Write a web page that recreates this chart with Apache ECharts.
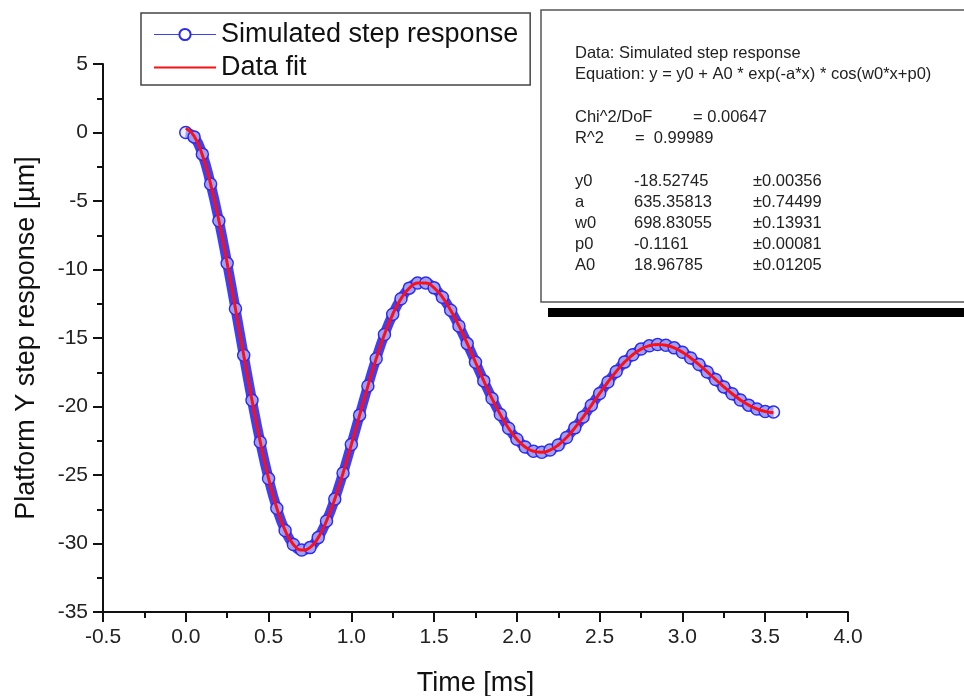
<!DOCTYPE html>
<html>
<head>
	<meta charset="utf-8">
	<title>Platform Y step response</title>
	<script src="https://cdn.jsdelivr.net/npm/echarts@6/dist/echarts.min.js"></script>
	<style>
		html, body { margin: 0; padding: 0; background: #fff; }
		#main { width: 964px; height: 696px; }
	</style>
</head>
<body>
	<div id="main"></div>
	<script>
		// time axis [ms], every 0.05 ms
		var timeMs = [0.00, 0.05, 0.10, 0.15, 0.20, 0.25, 0.30, 0.35, 0.40, 0.45, 0.50, 0.55,
			0.60, 0.65, 0.70, 0.75, 0.80, 0.85, 0.90, 0.95, 1.00, 1.05, 1.10, 1.15,
			1.20, 1.25, 1.30, 1.35, 1.40, 1.45, 1.50, 1.55, 1.60, 1.65, 1.70, 1.75,
			1.80, 1.85, 1.90, 1.95, 2.00, 2.05, 2.10, 2.15, 2.20, 2.25, 2.30, 2.35,
			2.40, 2.45, 2.50, 2.55, 2.60, 2.65, 2.70, 2.75, 2.80, 2.85, 2.90, 2.95,
			3.00, 3.05, 3.10, 3.15, 3.20, 3.25, 3.30, 3.35, 3.40, 3.45, 3.50, 3.55];

		// blue circles (simulated step response) [um]
		var simulated = [0.00, -0.32, -1.58, -3.76, -6.44, -9.54, -12.86, -16.26, -19.55, -22.59, -25.25, -27.43,
			-29.05, -30.07, -30.48, -30.30, -29.57, -28.36, -26.76, -24.86, -22.78, -20.63, -18.51, -16.52,
			-14.75, -13.27, -12.13, -11.36, -10.98, -10.98, -11.34, -12.02, -12.97, -14.12, -15.41, -16.77,
			-18.13, -19.42, -20.59, -21.59, -22.39, -22.95, -23.27, -23.34, -23.18, -22.81, -22.26, -21.56,
			-20.77, -19.91, -19.05, -18.21, -17.44, -16.76, -16.22, -15.81, -15.56, -15.47, -15.53, -15.72,
			-16.04, -16.46, -16.94, -17.48, -18.03, -18.57, -19.07, -19.52, -19.90, -20.18, -20.37, -20.40];

		// red line (data fit) [um]
		var fitted = [0.31, -0.25, -1.65, -3.76, -6.44, -9.54, -12.86, -16.26, -19.55, -22.59, -25.25, -27.43,
			-29.05, -30.07, -30.48, -30.30, -29.57, -28.36, -26.76, -24.86, -22.78, -20.63, -18.51, -16.52,
			-14.75, -13.27, -12.13, -11.36, -10.98, -10.98, -11.34, -12.02, -12.97, -14.12, -15.41, -16.77,
			-18.13, -19.42, -20.59, -21.59, -22.39, -22.95, -23.27, -23.34, -23.18, -22.81, -22.26, -21.56,
			-20.77, -19.91, -19.05, -18.21, -17.44, -16.76, -16.22, -15.81, -15.56, -15.47, -15.53, -15.72,
			-16.04, -16.46, -16.94, -17.48, -18.03, -18.57, -19.07, -19.52, -19.90, -20.18, -20.37, -20.46];

		// fit report
		var paramNames = ['y0', 'a', 'w0', 'p0', 'A0'];
		var paramValues = ['-18.52745', '635.35813', '698.83055', '-0.1161', '18.96785'];
		var paramErrors = ['\u00b10.00356', '\u00b10.74499', '\u00b10.13931', '\u00b10.00081', '\u00b10.01205'];

		var fontName = '"Liberation Sans", Arial, sans-serif';
		var boxFont = '16.5px ' + fontName;
		var blue = '#2a2af2';
		var red = '#ff1010';

		var chart = echarts.init(document.getElementById('main'));

		function boxText(x, y, txt) {
			return { type: 'text', x: x, y: y, z: 12,
				style: { text: txt, font: boxFont, fill: '#222', verticalAlign: 'middle' } };
		}

		// text box in the upper right
		var graphics = [
			{ type: 'rect', shape: { x: 548, y: 308, width: 430, height: 9 }, style: { fill: '#000' }, z: 10 },
			{ type: 'rect', shape: { x: 541, y: 10, width: 440, height: 292 }, style: { fill: '#fff', stroke: '#555', lineWidth: 1.5 }, z: 11 },
			boxText(575, 53, 'Data: Simulated step response'),
			boxText(575, 74, 'Equation: y = y0 + A0 * exp(-a*x) * cos(w0*x+p0)'),
			boxText(575, 117, 'Chi^2/DoF'),
			boxText(693, 117, '= 0.00647'),
			boxText(575, 138, 'R^2'),
			boxText(635, 138, '=  0.99989')
		];
		for (var i = 0; i < paramNames.length; i++) {
			var ty = 181 + i * 21;
			graphics.push(boxText(575, ty, paramNames[i]));
			graphics.push(boxText(634, ty, paramValues[i]));
			graphics.push(boxText(753, ty, paramErrors[i]));
		}

		var axisCommon = {
			type: 'value',
			nameLocation: 'middle',
			nameTextStyle: { fontSize: 27, color: '#111', fontFamily: fontName },
			axisLine: { show: true, onZero: false, lineStyle: { color: '#111', width: 2 } },
			axisTick: { show: true, length: 10, lineStyle: { color: '#111', width: 2 } },
			minorTick: { show: true, splitNumber: 2, length: 6, lineStyle: { color: '#111', width: 2 } },
			splitLine: { show: false },
			axisLabel: { fontSize: 21, color: '#222', fontFamily: fontName, margin: 15 }
		};

		var option = {
			animation: false,
			backgroundColor: '#fff',
			grid: { left: 103, right: 116, top: 64, bottom: 84, outerBoundsMode: 'none' },
			legend: {
				orient: 'vertical',
				left: 141,
				top: 13,
				padding: [8, 12, 4, 12],
				itemGap: 6,
				itemWidth: 62,
				itemHeight: 14,
				borderColor: '#444',
				borderWidth: 1.5,
				backgroundColor: '#fff',
				textStyle: { fontSize: 27, color: '#111', fontFamily: fontName },
				data: [
					{ name: 'Simulated step response',
						lineStyle: { width: 1 },
						itemStyle: { color: '#fff', borderColor: blue, borderWidth: 2 } },
					{ name: 'Data fit',
						itemStyle: { color: 'rgba(0,0,0,0)', borderWidth: 0, opacity: 0 } }
				]
			},
			xAxis: echarts.util.merge({
				name: 'Time [ms]',
				nameGap: 58,
				min: -0.5,
				max: 4.0,
				interval: 0.5,
				axisLabel: { formatter: function (v) { return v.toFixed(1); } }
			}, axisCommon),
			yAxis: echarts.util.merge({
				name: 'Platform Y step response [\u00b5m]',
				nameGap: 63,
				min: -35,
				max: 5,
				interval: 5
			}, axisCommon),
			graphic: graphics,
			series: [
				{
					name: 'Simulated step response',
					type: 'line',
					data: timeMs.map(function (t, k) { return [t, simulated[k]]; }),
					smooth: true,
					symbol: 'circle',
					symbolSize: 12,
					showAllSymbol: true,
					lineStyle: { color: blue, width: 10, opacity: 0.9 },
					itemStyle: { color: 'rgba(225,225,255,0.6)', borderColor: blue, borderWidth: 1.5 },
					z: 2
				},
				{
					name: 'Data fit',
					type: 'line',
					data: timeMs.map(function (t, k) { return [t, fitted[k]]; }),
					smooth: true,
					symbol: 'none',
					lineStyle: { color: red, width: 3 },
					itemStyle: { color: red },
					z: 3
				}
			]
		};

		chart.setOption(option);
	</script>
</body>
</html>
